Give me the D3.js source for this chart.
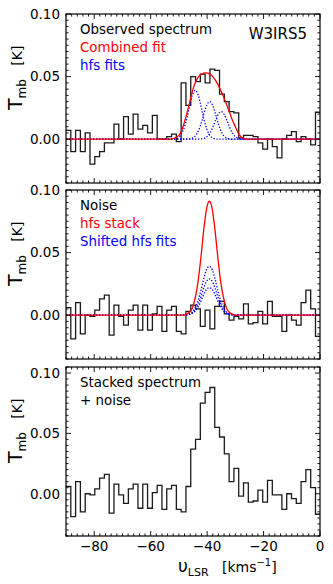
<!DOCTYPE html>
<html><head><meta charset="utf-8">
<script src="https://cdn.jsdelivr.net/npm/d3@7"></script>
<style>
body{margin:0;background:#fff}
svg{display:block}
text{font-family:"DejaVu Sans",sans-serif}
</style>
</head><body>
<svg id="c" width="333" height="584"></svg>
<script>
// ---------------- data ----------------
const velocityStart = -90;   // km/s, left edge of first channel
const channelWidth = 1.7;    // km/s

const observedSpectrum = [0.007,-0.010,0.007,-0.010,0.005,-0.020,-0.014,-0.010,-0.003,-0.003,
  0.012,0.000,0.018,0.004,0.020,0.008,0.011,0.005,0.019,0.000,
  0.000,0.002,0.004,-0.002,0.045,0.027,0.050,0.046,0.052,0.045,
  0.056,0.055,0.036,0.030,0.022,0.021,0.001,0.003,0.003,0.002,
  -0.003,-0.008,0.000,-0.006,-0.015,0.000,0.003,0.006,-0.002,0.002,
  0.000,-0.0045,0.0215];

const noiseSpectrum = [0.006,-0.019,0.010,-0.015,0.000,-0.001,0.004,0.013,0.016,-0.016,
  0.008,-0.001,-0.008,0.004,0.008,-0.012,0.008,-0.012,0.001,0.007,
  -0.013,0.004,0.007,-0.013,-0.015,0.003,0.008,0.005,-0.009,0.004,
  -0.011,0.007,0.011,0.001,-0.004,-0.001,-0.003,0.009,-0.007,-0.006,
  0.003,-0.007,0.011,-0.001,-0.001,-0.013,0.000,-0.004,-0.008,0.010,
  0.020,0.005,-0.017];

const stackedSpectrum = [0.006,-0.019,0.010,-0.015,0.000,-0.001,0.004,0.013,0.016,-0.016,
  0.008,-0.001,-0.008,0.004,0.008,-0.012,0.008,-0.012,0.001,0.007,
  -0.013,0.004,0.007,-0.013,-0.015,0.006,0.037,0.045,0.075,0.084,
  0.088,0.055,0.047,0.033,0.010,0.021,-0.002,0.009,-0.007,-0.006,
  0.003,-0.007,0.011,-0.001,-0.001,-0.013,0.000,-0.004,-0.008,0.010,
  0.020,0.005,-0.017];

// smooth model curves, [velocity, T] samples
const combinedFit = [[-90,0],[-54,0],[-52,0.0005],[-50,0.003],[-49,0.007],[-48,0.014],[-47,0.022],
  [-46,0.031],[-45,0.040],[-44,0.046],[-43,0.050],[-42,0.052],[-40.5,0.053],[-39,0.052],
  [-38,0.050],[-37,0.047],[-36,0.043],[-35,0.038],[-34,0.033],[-33,0.027],[-32,0.021],
  [-31,0.015],[-30,0.010],[-29,0.005],[-28,0.002],[-27,0.0005],[-26,0],[0,0]];
const hfsFit1 = [[-90,0],[-52.2,0],[-51.2,0.0004],[-50.2,0.0013],[-49.2,0.0037],[-48.2,0.0086],[-47.2,0.0167],
  [-46.2,0.0267],[-45.2,0.0355],[-44.2,0.039],[-43.2,0.0355],[-42.2,0.0267],[-41.2,0.0167],
  [-40.2,0.0086],[-39.2,0.0037],[-38.2,0.0013],[-37.2,0.0004],[-36.2,0],[0,0]];
const hfsFit2 = [[-90,0],[-47.1,0],[-46.1,0.0003],[-45.1,0.001],[-44.1,0.0028],[-43.1,0.0066],[-42.1,0.0128],
  [-41.1,0.0206],[-40.1,0.0273],[-39.1,0.030],[-38.1,0.0273],[-37.1,0.0206],[-36.1,0.0128],
  [-35.1,0.0066],[-34.1,0.0028],[-33.1,0.001],[-32.1,0.0003],[-31.1,0],[0,0]];
const hfsFit3 = [[-90,0],[-43,0],[-42,0.0002],[-41,0.0007],[-40,0.0021],[-39,0.0048],[-38,0.0094],
  [-37,0.0151],[-36,0.020],[-35,0.022],[-34,0.020],[-33,0.0151],[-32,0.0094],
  [-31,0.0048],[-30,0.0021],[-29,0.0007],[-28,0.0002],[-27,0],[0,0]];

const hfsStack = [[-90,0],[-48.2,0],[-47.2,0.001],[-46.2,0.0025],[-45.2,0.006],[-44.2,0.014],[-43.2,0.027],
  [-42.2,0.046],[-41.2,0.068],[-40.2,0.085],[-39.2,0.091],[-38.2,0.085],[-37.2,0.068],[-36.2,0.046],
  [-35.2,0.027],[-34.2,0.014],[-33.2,0.006],[-32.2,0.0025],[-31.2,0.001],[-30.2,0],[0,0]];
const shiftedFit1 = [[-90,0],[-48.2,0],[-47.2,0.0004],[-46.2,0.0011],[-45.2,0.0026],[-44.2,0.006],[-43.2,0.0116],
  [-42.2,0.0197],[-41.2,0.029],[-40.2,0.0364],[-39.2,0.039],[-38.2,0.0364],[-37.2,0.029],[-36.2,0.0197],
  [-35.2,0.0116],[-34.2,0.006],[-33.2,0.0026],[-32.2,0.0011],[-31.2,0.0004],[-30.2,0],[0,0]];
const shiftedFit2 = [[-90,0],[-48.2,0],[-47.2,0.0003],[-46.2,0.0008],[-45.2,0.0019],[-44.2,0.0045],[-43.2,0.0086],
  [-42.2,0.0147],[-41.2,0.0217],[-40.2,0.0271],[-39.2,0.029],[-38.2,0.0271],[-37.2,0.0217],[-36.2,0.0147],
  [-35.2,0.0086],[-34.2,0.0045],[-33.2,0.0019],[-32.2,0.0008],[-31.2,0.0003],[-30.2,0],[0,0]];
const shiftedFit3 = [[-90,0],[-48.2,0],[-47.2,0.0002],[-46.2,0.0006],[-45.2,0.0015],[-44.2,0.0034],[-43.2,0.0065],
  [-42.2,0.0111],[-41.2,0.0164],[-40.2,0.0206],[-39.2,0.022],[-38.2,0.0206],[-37.2,0.0164],[-36.2,0.0111],
  [-35.2,0.0065],[-34.2,0.0034],[-33.2,0.0015],[-32.2,0.0006],[-31.2,0.0002],[-30.2,0],[0,0]];

const xTickValues = [-80,-60,-40,-20,0];
const xTickLabels = ["\u221280","\u221260","\u221240","\u221220","0"];
const yTickValues = [0,0.05,0.10];
const yTickLabels = ["0.00","0.05","0.10"];

// ---------------- drawing ----------------
const svg = d3.select("#c");
const RED = "#ff0000", BLUE = "#0000ff";
const x = d3.scaleLinear().domain([-90,0]).range([66,320]);

const panels = [
  {top:14, bottom:183, dom:[-0.035,0.10], spec:observedSpectrum, red:[combinedFit], blue:[hfsFit1,hfsFit2,hfsFit3],
   legend:[["Observed spectrum","#000"],["Combined fit",RED],["hfs fits",BLUE]], name:"W3IRS5"},
  {top:190, bottom:359, dom:[-0.035,0.10], spec:noiseSpectrum, red:[hfsStack], blue:[shiftedFit1,shiftedFit2,shiftedFit3],
   legend:[["Noise","#000"],["hfs stack",RED],["Shifted hfs fits",BLUE]]},
  {top:367, bottom:536, dom:[-0.035,0.105], spec:stackedSpectrum, red:[], blue:[],
   legend:[["Stacked spectrum","#000"],["+ noise","#000"]]}
];

panels.forEach((p, pi) => {
  const y = d3.scaleLinear().domain(p.dom).range([p.bottom, p.top]);
  const g = svg.append("g");
  const clipId = "clip" + pi;
  svg.append("clipPath").attr("id", clipId).append("rect")
    .attr("x", x(-90)).attr("y", p.top).attr("width", x(0) - x(-90)).attr("height", p.bottom - p.top);
  const plot = g.append("g").attr("clip-path", `url(#${clipId})`);

  // step spectrum
  const n = p.spec.length;
  const pts = p.spec.map((v, i) => [velocityStart + i * channelWidth, v]);
  pts.push([velocityStart + n * channelWidth, p.spec[n - 1]]);
  const stepLine = d3.line().x(d => x(d[0])).y(d => y(d[1])).curve(d3.curveStepAfter);
  plot.append("path").attr("d", stepLine(pts)).attr("fill", "none")
    .attr("stroke", "#1a1a1a").attr("stroke-width", 1.3);

  const smooth = d3.line().x(d => x(d[0])).y(d => y(d[1])).curve(d3.curveMonotoneX);
  p.blue.forEach(c => plot.append("path").attr("d", smooth(c)).attr("fill", "none")
    .attr("stroke", BLUE).attr("stroke-width", 1.3).attr("stroke-dasharray", "1.3,1.7"));
  p.red.forEach(c => plot.append("path").attr("d", smooth(c)).attr("fill", "none")
    .attr("stroke", RED).attr("stroke-width", 1.3));

  // ticks
  const tk = g.append("g").attr("stroke", "#000").attr("stroke-width", 0.9);
  const minorX = d3.range(-45, 1).map(i => i * 2).filter(v => v % 20 !== 0);
  [...xTickValues.map(v => [v, 5]), ...minorX.map(v => [v, 2.6])].forEach(([v, len]) => {
    const xx = x(v);
    tk.append("line").attr("x1", xx).attr("x2", xx).attr("y1", p.bottom).attr("y2", p.bottom - len);
    tk.append("line").attr("x1", xx).attr("x2", xx).attr("y1", p.top).attr("y2", p.top + len);
  });
  const i0 = Math.ceil(p.dom[0] / 0.005 - 1e-6), i1 = Math.floor(p.dom[1] / 0.005 + 1e-6);
  d3.range(i0, i1 + 1).forEach(i => {
    const major = i % 10 === 0;
    const len = major ? 5 : 2.6;
    const yy = y(i * 0.005);
    tk.append("line").attr("x1", x(-90)).attr("x2", x(-90) + len).attr("y1", yy).attr("y2", yy);
    tk.append("line").attr("x1", x(0)).attr("x2", x(0) - len).attr("y1", yy).attr("y2", yy);
  });

  // frame
  g.append("rect").attr("x", x(-90)).attr("y", p.top).attr("width", x(0) - x(-90)).attr("height", p.bottom - p.top)
    .attr("fill", "none").attr("stroke", "#000").attr("stroke-width", 1.2);

  // y tick labels
  yTickValues.forEach((v, i) => {
    g.append("text").attr("x", 60).attr("y", y(v)).attr("dy", "0.36em").attr("text-anchor", "end")
      .attr("font-size", 13.5).attr("fill", "#000").text(yTickLabels[i]);
  });

  // y axis label
  const yl = g.append("text").attr("transform", `translate(22,${p.bottom - 73}) rotate(-90)`)
    .attr("text-anchor", "start").attr("fill", "#000");
  yl.append("tspan").attr("font-size", 19).text("T");
  yl.append("tspan").attr("font-size", 12).attr("dy", 4).text("mb");
  yl.append("tspan").attr("font-size", 14).attr("dy", -4).text("\u00a0\u00a0\u00a0[K]");

  // legend texts
  p.legend.forEach(([t, col], i) => {
    g.append("text").attr("x", 80).attr("y", p.top + 20 + i * 18).attr("font-size", 13.4)
      .attr("fill", col).text(t);
  });
  if (p.name) {
    g.append("text").attr("x", 307).attr("y", p.top + 25).attr("text-anchor", "end")
      .attr("font-size", 15).attr("fill", "#000").text(p.name);
  }

  if (pi === panels.length - 1) {
    xTickValues.forEach((v, i) => {
      g.append("text").attr("x", x(v)).attr("y", p.bottom + 15).attr("text-anchor", "middle")
        .attr("font-size", 13.5).attr("fill", "#000").text(xTickLabels[i]);
    });
    const xl = g.append("text").attr("x", 178).attr("y", p.bottom + 36).attr("fill", "#000");
    xl.append("tspan").attr("font-size", 17).text("\u03c5");
    xl.append("tspan").attr("font-size", 11).attr("dy", 4).text("LSR");
    xl.append("tspan").attr("font-size", 14).attr("dy", -4).text("\u00a0\u00a0\u00a0[kms");
    xl.append("tspan").attr("font-size", 10).attr("dy", -6).text("\u22121");
    xl.append("tspan").attr("font-size", 14).attr("dy", 6).text("]");
  }
});
</script>
</body></html>
